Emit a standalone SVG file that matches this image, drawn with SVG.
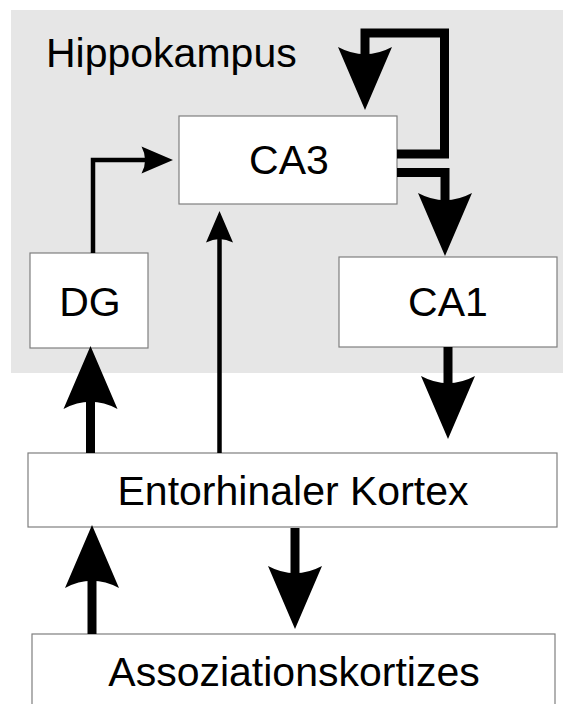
<svg xmlns="http://www.w3.org/2000/svg" width="563" height="704" viewBox="0 0 563 704">
<style>
.box{fill:#ffffff;stroke:#7f7f7f;stroke-width:1.2}
.lbl{font-family:"Liberation Sans",Arial,sans-serif;font-size:41px;fill:#000}
.thick{fill:none;stroke:#000;stroke-width:9;stroke-linejoin:miter;marker-end:url(#head)}
.thin{fill:none;stroke:#000;stroke-width:4.5;stroke-linejoin:miter;marker-end:url(#head)}
</style>
<defs>
<marker id="head" viewBox="0 -3 7 6" refX="1" refY="0" markerWidth="7" markerHeight="6" markerUnits="strokeWidth" orient="auto" overflow="visible">
<path d="M7,0 L0,-3 Q1.6,0 0,3 Z" fill="#000"/>
</marker>
</defs>
<rect id="hippokampus-bg" x="11" y="10" width="552" height="363" fill="#e6e6e6"/>
<text class="lbl" x="46" y="67">Hippokampus</text>
<g id="CA3"><rect class="box" x="179" y="116" width="218" height="88"/><text class="lbl" x="289" y="174" text-anchor="middle">CA3</text></g>
<g id="DG"><rect class="box" x="30" y="253" width="118" height="95"/><text class="lbl" x="90" y="316" text-anchor="middle">DG</text></g>
<g id="CA1"><rect class="box" x="339" y="257" width="218" height="90"/><text class="lbl" x="448" y="316" text-anchor="middle">CA1</text></g>
<g id="EK"><rect class="box" x="28" y="453" width="529" height="74"/><text class="lbl" x="293" y="505" text-anchor="middle">Entorhinaler Kortex</text></g>
<g id="Assoz"><rect class="box" x="32" y="634" width="523" height="90"/><text class="lbl" x="294" y="686" text-anchor="middle">Assoziationskortizes</text></g>
<g id="connectors">
<path class="thick" d="M397,154 H444.5 V33 H365 V56"/>
<path class="thick" d="M397,172.5 H445 V202"/>
<path class="thick" d="M448,347 V385"/>
<path class="thick" d="M295,528 V575"/>
<path class="thick" d="M92,634 V579"/>
<path class="thick" d="M90.5,453 V400"/>
<path class="thin" d="M219.5,453 V238"/>
<path class="thin" d="M93,253 V160 H146"/>
</g>
</svg>
